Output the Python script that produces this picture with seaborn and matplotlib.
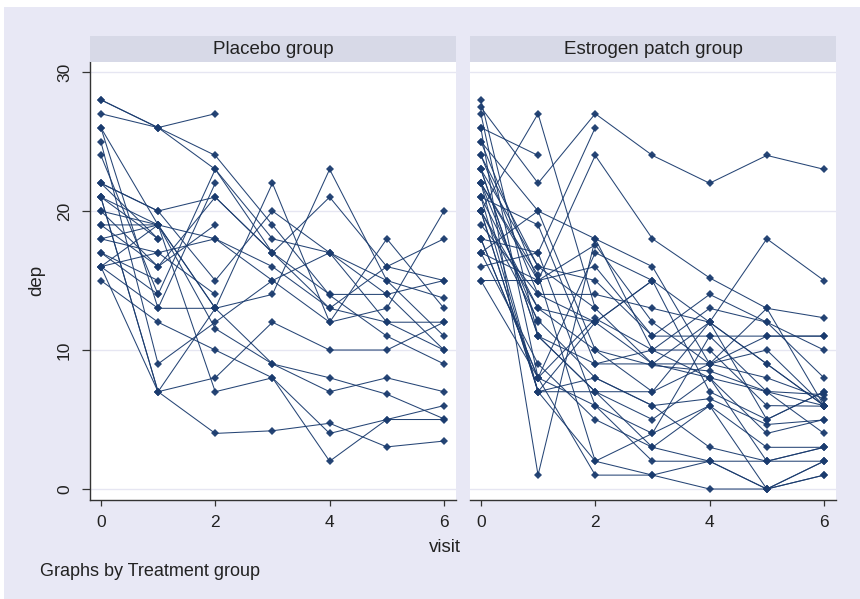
import numpy as np
import pandas as pd
import matplotlib
matplotlib.use("Agg")
import matplotlib.pyplot as plt
from matplotlib.patches import Rectangle
import seaborn as sns

nan = np.nan
visits = [0, 1, 2, 3, 4, 5, 6]

# depression score per subject, one list per visit
placebo_v0 = [18, 27, 16, 17, 15, 20, 16, 28, 28, 25, 24, 16, 26, 21, 21, 22, 26, 19, 22, 16, 21, 20, 17, 22, 19, 21, 18]
placebo_v1 = [17, 26, 17, 14, 12, 19, 13, 26, 26, 9, 14, 19, 13, 7, 18, 18, 19, 19, 20, 7, 19, 16, 15, 20, 16, 7, 19]
placebo_v2 = [18, 23, 14, 23, 10, 11.54, 13, 27, 24, 12, nan, 13, 22, 13, nan, nan, 13, 7, 15, 8, 18, 21, nan, 21, 19, 4, nan]
placebo_v3 = [15, 18, nan, 17, 8, 9, 9, nan, 19, 15, nan, 14, nan, nan, nan, nan, 22, 8, 20, 12, 16, 17, nan, 17, nan, 4.19, nan]
placebo_v4 = [17, 17, nan, 13, 4, 8, 7, nan, 13.94, 12, nan, 23, nan, nan, nan, nan, 12, 2, 17, 10, 13, 21, nan, 14, nan, 4.73, nan]
placebo_v5 = [14, 12, nan, 12, 5, 6.82, 8, nan, 11, 13, nan, 15, nan, nan, nan, nan, 18, 5, 15, 10, 16, 16, nan, 14, nan, 3.03, nan]
placebo_v6 = [15, 10, nan, 12, 5, 5.05, 7, nan, 9, 20, nan, 11, nan, nan, nan, nan, 13, 6, 13.73, 12, 15, 18, nan, 10, nan, 3.45, nan]

estrogen_v0 = [21, 27, 15, 24, 15, 17, 20, 18, 28, 21, 18, 27.46, 19, 20, 16, 21, 23, 23, 24, 25, 22, 20, 20, 25, 18, 26, 20, 17, 22, 22, 23, 17, 22, 26]
estrogen_v1 = [13, 8, 8, 14, 15, 9, 7, 8, 11, 7, 8, 22, 14, 13, 17, 19, 11, 16, 16, 20, 15, 7, 12.13, 15, 17, 1, 27, 20, 12, 15.38, 11, 15, 7, 24]
estrogen_v2 = [12, 17, 12.27, 14, 16, 5, 7, 1, 7, 8, 6, 27, 12, 10, 26, 9, 7, 13, 15, 18, 17.57, 2, 8, 24, 6, 18, 13, 10, nan, 2, 9, nan, 12, nan]
estrogen_v3 = [9, 15, 10, 13, 11, 3, 7, 1, 3, 6, 4, 24, 15, 7, nan, 9, 5, nan, 11, 16, 12, 1, 6, 18, 2, 10, 9, 8.89, nan, 4, 10, nan, 15, nan]
estrogen_v4 = [9, 7, 10, 12, 14, 6, 12, 2, 2, 6.5, 11, 22, 12, 9, nan, 12, 8, nan, 11, 9, 9, 0, 3, 15.19, 2, 13, 8, 8.49, nan, 6, 8, nan, nan, nan]
estrogen_v5 = [13, 5, 6, 18, 12, 0, 9, 0, 2, 4.64, 7, 24, 9, 11, nan, 5, 2, nan, 11, 10, 8, 0, 2, 13, 0, 12, 4, 7.02, nan, 3, 7, nan, nan, nan]
estrogen_v6 = [6, 7, 5.96, 15, 8, 2, 6, 1, 2, 4.97, 6, 23, 6, 11, nan, 7, 3, nan, 11, 6, 6.5, 2, 3, 12.32, 1, 10, 5, 6.79, nan, 3, 4, nan, nan, nan]

group_titles = ["Placebo group", "Estrogen patch group"]


def to_long(cols, tag):
    rows = []
    for v, col in zip(visits, cols):
        for i, val in enumerate(col):
            rows.append({"id": f"{tag}{i}", "visit": v, "dep": val})
    return pd.DataFrame(rows).dropna()


placebo = to_long([placebo_v0, placebo_v1, placebo_v2, placebo_v3,
                   placebo_v4, placebo_v5, placebo_v6], "p")
estrogen = to_long([estrogen_v0, estrogen_v1, estrogen_v2, estrogen_v3,
                    estrogen_v4, estrogen_v5, estrogen_v6], "e")

sns.set_style("white")
plt.rcParams["font.family"] = ["Liberation Sans", "DejaVu Sans"]

bg = "#E8E8F5"
strip_col = "#D7D9E7"
grid_col = "#E6E6F2"
navy = "#1A3B6E"
txt = "#222222"

W, H = 860, 599
fig = plt.figure(figsize=(W / 100, H / 100), dpi=100)
fig.patch.set_facecolor("white")
fig.add_artist(Rectangle((4 / W, 0), 1, 1 - 7 / H, transform=fig.transFigure,
                         facecolor=bg, edgecolor="none", zorder=-10))

ax_bottom = 1 - 500 / H
ax_height = (500 - 62) / H
panel_x = [90, 470]
panel_w = 366

for k, (data, title) in enumerate(zip([placebo, estrogen], group_titles)):
    left = panel_x[k] / W
    ax = fig.add_axes([left, ax_bottom, panel_w / W, ax_height])
    ax.set_facecolor("white")
    for y in [0, 10, 20, 30]:
        ax.axhline(y, color=grid_col, lw=1.0, zorder=0)
    sns.lineplot(data=data, x="visit", y="dep", units="id", estimator=None,
                 color=navy, lw=0.75, marker="D", markersize=3.8,
                 markeredgecolor=navy, markeredgewidth=0, alpha=0.95,
                 sort=False, ax=ax)
    ax.set_xlim(-0.19, 6.21)
    ax.set_ylim(-0.79, 30.72)
    ax.set_xticks([0, 2, 4, 6])
    ax.set_xlabel("")
    ax.set_ylabel("")
    for s in ["top", "right"]:
        ax.spines[s].set_visible(False)
    ax.spines["bottom"].set_color("#333333")
    ax.spines["bottom"].set_linewidth(1.0)
    ax.tick_params(axis="x", direction="out", length=4.5, width=0.9,
                   color="#333333", labelsize=12.5, labelcolor=txt, pad=6,
                   bottom=True)
    if k == 0:
        ax.spines["left"].set_color("#333333")
        ax.spines["left"].set_linewidth(1.0)
        ax.set_yticks([0, 10, 20, 30])
        ax.tick_params(axis="y", direction="out", length=6, width=0.9,
                       color="#333333", labelsize=12.5, labelcolor=txt, pad=7,
                       left=True)
        for lab in ax.get_yticklabels():
            lab.set_rotation(90)
            lab.set_va("center")
    else:
        ax.spines["left"].set_visible(False)
        ax.set_yticks([0, 10, 20, 30])
        ax.tick_params(axis="y", left=False, labelleft=False)

    # strip header
    fig.add_artist(Rectangle((left, 1 - 62 / H), panel_w / W, 26 / H,
                             transform=fig.transFigure, facecolor=strip_col,
                             edgecolor="none"))
    fig.text(left + panel_w / W / 2, 1 - 49 / H, title, ha="center",
             va="center", fontsize=13.5, color=txt)

fig.text(37 / W, 1 - 280 / H, "dep", rotation=90, ha="center", va="center",
         fontsize=13.5, color=txt)
fig.text(445 / W, 1 - 548 / H, "visit", ha="center", va="center",
         fontsize=13.5, color=txt)
fig.text(40 / W, 1 - 571 / H, "Graphs by Treatment group", ha="left",
         va="center", fontsize=13, color=txt)

fig.savefig("out.png", dpi=100, facecolor=fig.get_facecolor())
